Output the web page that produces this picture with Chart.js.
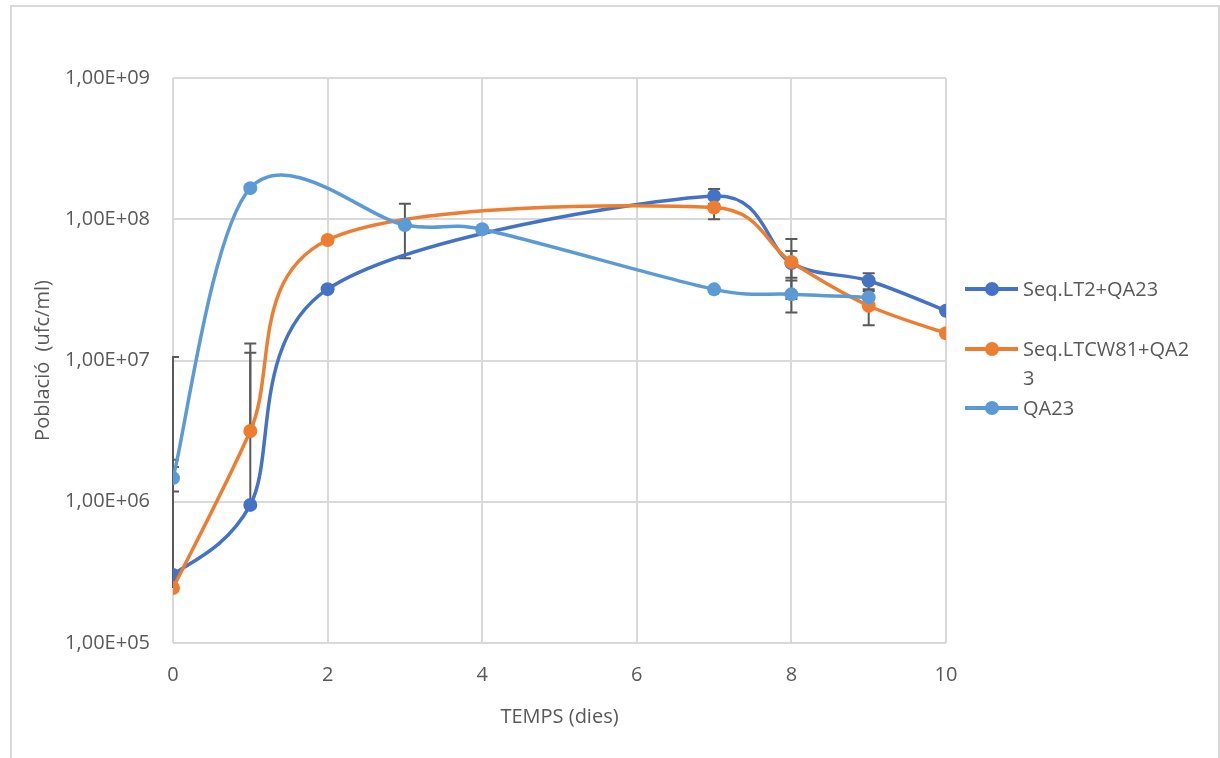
<!DOCTYPE html>
<html>
<head>
<meta charset="utf-8">
<script src="https://cdn.jsdelivr.net/npm/chart.js@4.4.1/dist/chart.umd.min.js"></script>
<style>
html, body { margin: 0; padding: 0; background: #fff; overflow: hidden; width: 1220px; height: 758px; }
#frame { position: absolute; left: 10px; top: 5px; width: 1210px; height: 800px; border: 2px solid #d9d9d9; box-sizing: border-box; }
#chart { position: absolute; left: 0; top: 0; }
#legend { position: absolute; left: 965px; top: 274px; font-family: 'Open Sans'; font-size: 20px; color: #595959; line-height: 29px; }
.leg { display: flex; }
.leg:first-child { margin-bottom: 31px; }
.leg:nth-child(2) { margin-bottom: 1px; }
.sym { position: relative; width: 53px; height: 29px; flex: none; }
.sym .ln { position: absolute; left: 0; top: 13px; width: 53px; height: 3.5px; }
.sym .dot { position: absolute; left: 19.5px; top: 7.5px; width: 14px; height: 14px; border-radius: 50%; }
.txt { margin-left: 5px; width: 174px; word-break: break-all; }
</style>
</head>
<body>
<div id="frame"></div>
<canvas id="chart" width="1220" height="758"></canvas>
<div id="legend"></div>
<script>
// Dades llegides del gràfic (població en ufc/ml)
const seriesNames = ['Seq.LT2+QA23', 'Seq.LTCW81+QA23', 'QA23'];
const seriesColors = ['#4472C4', '#ED7D31', '#5B9BD5'];

const daysLT2 = [0, 1, 2, 7, 8, 9, 10];
const popLT2 = [3.03e5, 9.5e5, 3.2e7, 1.46e8, 4.9e7, 3.67e7, 2.25e7];
const errLT2 = [1.03e7, 1.04e7, 0, 1.8e7, 1.05e7, 4.7e6, 0];

const daysLTCW81 = [0, 1, 2, 7, 8, 9, 10];
const popLTCW81 = [2.45e5, 3.17e6, 7.13e7, 1.21e8, 4.98e7, 2.44e7, 1.56e7];
const errLTCW81 = [1.74e6, 1.0e7, 0, 2.1e7, 2.26e7, 6.6e6, 0];

const daysQA23 = [0, 1, 3, 4, 7, 8, 9];
const popQA23 = [1.47e6, 1.66e8, 9.1e7, 8.5e7, 3.19e7, 2.94e7, 2.8e7];
const errQA23 = [2.9e5, 0, 3.8e7, 0, 0, 7.5e6, 0];

const xTicks = [0, 2, 4, 6, 8, 10];
const yTicks = [1e5, 1e6, 1e7, 1e8, 1e9];

const FONT = 'Open Sans';
const TXT = '#595959';

function points(xs, ys) {
    return xs.map((x, i) => ({x: x, y: ys[i]}));
}

function makeSet(i, xs, ys, errs) {
    return {
        label: seriesNames[i],
        data: points(xs, ys),
        errors: errs,
        borderColor: seriesColors[i],
        backgroundColor: seriesColors[i],
        pointBackgroundColor: seriesColors[i],
        pointBorderWidth: 0,
        pointRadius: 7,
        borderWidth: 3.5,
        tension: 0.5,
        fill: false,
        order: 3 - i
    };
}

// Suavitzat tipus Excel: Catmull-Rom 1/6, amb el braç limitat a mig segment
function dist(a, b) { return Math.hypot(b.x - a.x, b.y - a.y); }

const excelSmooth = {
    id: 'excelSmooth',
    beforeDatasetsDraw(chart) {
        chart.getSortedVisibleDatasetMetas().forEach(meta => {
            const pts = meta.data;
            const n = pts.length;
            for (let i = 0; i < n - 1; i++) {
                const p0 = pts[Math.max(i - 1, 0)];
                const p1 = pts[i];
                const p2 = pts[i + 1];
                const p3 = pts[Math.min(i + 2, n - 1)];
                const d12 = dist(p1, p2);
                const d02 = dist(p0, p2);
                const d13 = dist(p1, p3);
                let f1 = 1 / 6, f2 = 1 / 6;
                if (d02 / 6 > d12 / 2) f1 = d12 / (2 * d02);
                if (d13 / 6 > d12 / 2) f2 = d12 / (2 * d13);
                p1.cp2x = p1.x + f1 * (p2.x - p0.x);
                p1.cp2y = p1.y + f1 * (p2.y - p0.y);
                p2.cp1x = p2.x - f2 * (p3.x - p1.x);
                p2.cp1y = p2.y - f2 * (p3.y - p1.y);
            }
            meta.dataset._pointsUpdated = true;
        });
    }
};

// Barres d'error (només la part positiva si la negativa surt de l'escala log)
const errorBars = {
    id: 'errorBars',
    beforeDatasetsDraw(chart) {
        const {ctx, chartArea: a, scales: {x, y}} = chart;
        ctx.save();
        ctx.beginPath();
        ctx.rect(a.left - 1, a.top, a.right - a.left + 2, a.bottom - a.top);
        ctx.clip();
        ctx.strokeStyle = '#595959';
        ctx.lineWidth = 2;
        const cap = 6;
        chart.data.datasets.forEach(ds => {
            ds.data.forEach((p, i) => {
                const e = ds.errors[i];
                if (!e) return;
                const px = x.getPixelForValue(p.x);
                const py = y.getPixelForValue(p.y);
                const up = y.getPixelForValue(p.y + e);
                ctx.beginPath();
                ctx.moveTo(px, py); ctx.lineTo(px, up);
                ctx.moveTo(px - cap, up); ctx.lineTo(px + cap, up);
                if (p.y - e > 0) {
                    const dn = y.getPixelForValue(p.y - e);
                    ctx.moveTo(px, py); ctx.lineTo(px, dn);
                    ctx.moveTo(px - cap, dn); ctx.lineTo(px + cap, dn);
                }
                ctx.stroke();
            });
        });
        ctx.restore();
    }
};

const chart = new Chart(document.getElementById('chart').getContext('2d'), {
    type: 'line',
    data: {
        datasets: [
            makeSet(0, daysLT2, popLT2, errLT2),
            makeSet(1, daysLTCW81, popLTCW81, errLTCW81),
            makeSet(2, daysQA23, popQA23, errQA23)
        ]
    },
    options: {
        responsive: false,
        animation: false,
        devicePixelRatio: 1,
        layout: { padding: { left: 0, top: 78, right: 274, bottom: 0 } },
        plugins: { legend: { display: false }, tooltip: { enabled: false } },
        scales: {
            x: {
                type: 'linear', min: 0, max: 10,
                afterBuildTicks: s => { s.ticks = xTicks.map(v => ({value: v})); },
                afterFit: s => { s.height = 115; },
                ticks: { color: TXT, font: { family: FONT, size: 20 }, padding: 20 },
                grid: { color: '#d9d9d9', lineWidth: 2, drawTicks: false },
                border: { display: false },
                title: { display: true, text: 'TEMPS (dies)', color: TXT, font: { family: FONT, size: 20 }, padding: { bottom: 29 } }
            },
            y: {
                type: 'logarithmic', min: 1e5, max: 1e9,
                afterBuildTicks: s => { s.ticks = yTicks.map(v => ({value: v})); },
                afterFit: s => { s.width = 173; },
                ticks: {
                    color: TXT, font: { family: FONT, size: 20 }, padding: 23,
                    callback: v => '1,00E+' + String(Math.round(Math.log10(v))).padStart(2, '0')
                },
                grid: { color: '#d9d9d9', lineWidth: 2, drawTicks: false },
                border: { display: false },
                title: { display: true, text: 'Població  (ufc/ml)', color: TXT, font: { family: FONT, size: 20 }, padding: { top: 31 } }
            }
        }
    },
    plugins: [excelSmooth, errorBars]
});

// Llegenda a la dreta
const legend = document.getElementById('legend');
seriesNames.forEach((name, i) => {
    const item = document.createElement('div');
    item.className = 'leg';
    item.innerHTML = `<div class="sym"><div class="ln" style="background:${seriesColors[i]}"></div>` +
        `<div class="dot" style="background:${seriesColors[i]}"></div></div><div class="txt">${name}</div>`;
    legend.appendChild(item);
});
</script>
</body>
</html>
